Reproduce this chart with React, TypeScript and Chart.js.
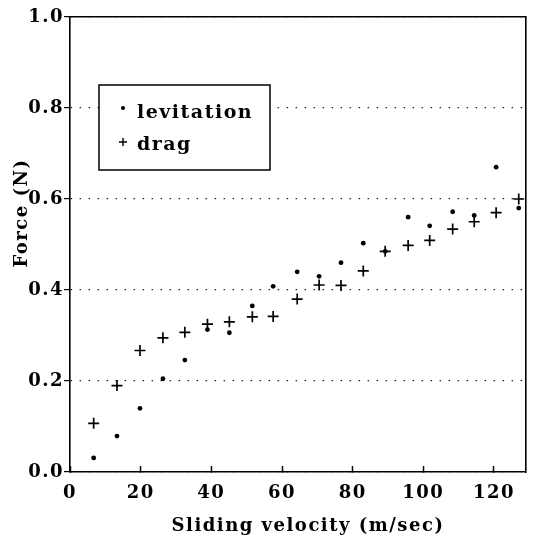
import React, { useEffect, useRef } from 'react';
import { Chart, registerables } from 'chart.js';

Chart.register(...registerables);

// ---- data ----
const velocity = [6.7, 13.3, 19.8, 26.3, 32.5, 38.9, 45.1, 51.6, 57.5, 64.3, 70.5, 76.7, 83.0, 89.2, 95.7, 101.8, 108.3, 114.4, 120.6, 127.0];
const levitation = [0.031, 0.079, 0.14, 0.205, 0.246, 0.313, 0.306, 0.365, 0.408, 0.44, 0.43, 0.46, 0.503, 0.485, 0.56, 0.541, 0.572, 0.564, 0.67, 0.58];
const drag = [0.107, 0.19, 0.267, 0.295, 0.307, 0.325, 0.33, 0.341, 0.342, 0.38, 0.411, 0.41, 0.442, 0.485, 0.498, 0.509, 0.534, 0.55, 0.57, 0.6];
const seriesNames = ['levitation', 'drag'];
const xTitle = 'Sliding velocity (m/sec)';
const yTitle = 'Force (N)';
const xMin = 0;
const xMax = 129;
const xStep = 20;
const yMin = 0;
const yMax = 1;
const yStep = 0.2;

const FONT_FAMILY = '"DejaVu Serif", serif';
const tickFont = { family: FONT_FAMILY, size: 18, weight: 'bold' as const };

const textPlugin = {
  id: 'textPlugin',
  beforeDraw(chart: any) {
    (chart.ctx as any).letterSpacing = '1.5px';
  },
  afterDraw(chart: any) {
    const { ctx, chartArea } = chart;
    ctx.save();
    (ctx as any).letterSpacing = '1.5px';
    ctx.fillStyle = '#000';
    ctx.font = `bold 18px ${FONT_FAMILY}`;

    // axis titles
    ctx.textAlign = 'center';
    ctx.textBaseline = 'alphabetic';
    ctx.fillText(xTitle, chartArea.left + 238, chartArea.bottom + 59);
    ctx.save();
    ctx.translate(chartArea.left - 48, chartArea.top + 196);
    ctx.rotate(-Math.PI / 2);
    ctx.textBaseline = 'middle';
    ctx.fillText(yTitle, 0, 0);
    ctx.restore();

    // boxed legend
    const bx = chartArea.left + 29;
    const by = chartArea.top + 68;
    const bw = 171;
    const bh = 85;
    ctx.fillStyle = '#fff';
    ctx.fillRect(bx, by, bw, bh);
    ctx.strokeStyle = '#000';
    ctx.lineWidth = 1.5;
    ctx.strokeRect(bx, by, bw, bh);
    ctx.fillStyle = '#000';
    ctx.font = `bold 19px ${FONT_FAMILY}`;
    ctx.textAlign = 'left';
    ctx.textBaseline = 'alphabetic';
    chart.data.datasets.forEach((ds: any, i: number) => {
      const my = by + 23 + i * 34;
      const mx = bx + 24;
      if (ds.pointStyle === 'cross') {
        ctx.lineWidth = 1.4;
        ctx.beginPath();
        ctx.moveTo(mx - 4, my);
        ctx.lineTo(mx + 4, my);
        ctx.moveTo(mx, my - 4);
        ctx.lineTo(mx, my + 4);
        ctx.stroke();
      } else {
        ctx.beginPath();
        ctx.arc(mx, my, 2, 0, Math.PI * 2);
        ctx.fill();
      }
      ctx.fillText(ds.label, bx + 38, by + 33 + i * 32);
    });
    ctx.restore();
  },
};

export default function App() {
  const canvasRef = useRef<HTMLCanvasElement | null>(null);

  useEffect(() => {
    const canvas = canvasRef.current;
    if (!canvas) return;
    const chart = new Chart(canvas, {
      type: 'scatter',
      data: {
        datasets: [
          {
            label: seriesNames[0],
            data: velocity.map((v, i) => ({ x: v, y: levitation[i] })),
            pointStyle: 'circle',
            pointRadius: 2.4,
            backgroundColor: '#000',
            borderColor: '#000',
            borderWidth: 0,
          },
          {
            label: seriesNames[1],
            data: velocity.map((v, i) => ({ x: v, y: drag[i] })),
            pointStyle: 'cross',
            pointRadius: 5.5,
            backgroundColor: '#000',
            borderColor: '#000',
            borderWidth: 1.7,
          },
        ],
      },
      options: {
        responsive: false,
        animation: false,
        events: [],
        layout: { padding: { left: 0, top: 17, right: 4, bottom: 0 } },
        plugins: {
          legend: { display: false },
          tooltip: { enabled: false },
          title: { display: false },
        },
        scales: {
          x: {
            type: 'linear',
            position: 'bottom',
            min: xMin,
            max: xMax,
            afterFit: (s: any) => { s.height = 72; },
            ticks: {
              stepSize: xStep,
              includeBounds: false,
              color: '#000',
              font: tickFont,
              padding: 17,
              maxRotation: 0,
            },
            grid: {
              drawOnChartArea: false,
              drawTicks: true,
              tickLength: -6,
              tickColor: '#000',
              tickWidth: 1.5,
            },
            border: { display: true, color: '#000', width: 1.6 },
          },
          y: {
            type: 'linear',
            position: 'left',
            min: yMin,
            max: yMax,
            afterFit: (s: any) => { s.width = 70; },
            ticks: {
              stepSize: yStep,
              color: '#000',
              font: tickFont,
              padding: 0,
              callback: (v: any) => Number(v).toFixed(1),
            },
            grid: {
              drawOnChartArea: true,
              color: '#222',
              lineWidth: 1.2,
              drawTicks: true,
              tickLength: 6,
              tickColor: '#000',
              tickWidth: 1.2,
              tickBorderDash: [],
            },
            border: { display: true, color: '#000', width: 1.6, dash: [1.5, 7.5] },
          },
          x2: {
            type: 'linear',
            position: 'top',
            min: xMin,
            max: xMax,
            afterFit: (s: any) => { s.height = 0; },
            ticks: { display: false },
            grid: { display: false, drawTicks: false },
            border: { display: true, color: '#000', width: 1.6 },
          },
          y2: {
            type: 'linear',
            position: 'right',
            min: yMin,
            max: yMax,
            afterFit: (s: any) => { s.width = 0; },
            ticks: { display: false },
            grid: { display: false, drawTicks: false },
            border: { display: true, color: '#000', width: 1.6 },
          },
        },
      },
      plugins: [textPlugin],
    });
    return () => chart.destroy();
  }, []);

  return (
    <div style={{ position: 'fixed', left: 0, top: 0, width: 533, height: 544, background: '#fff' }}>
      <canvas ref={canvasRef} width={533} height={544} style={{ display: 'block', width: 533, height: 544 }} />
    </div>
  );
}
